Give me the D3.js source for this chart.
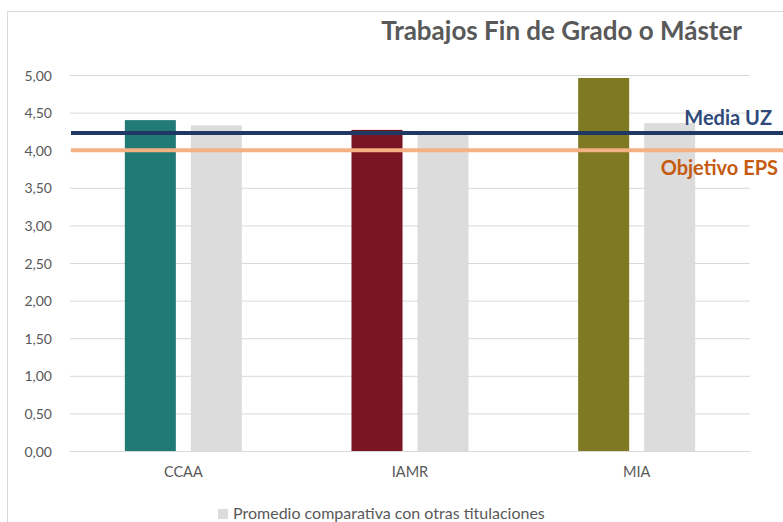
<!DOCTYPE html>
<html>
<head>
<meta charset="utf-8">
<script src="https://cdn.jsdelivr.net/npm/d3@7"></script>
<style>
  body { margin: 0; background: #fff; }
  svg { display: block; }
  svg text { font-family: Lato, "Open Sans", sans-serif; }
</style>
</head>
<body>
<div id="chart"></div>
<script>
// chart values
var categories = ["CCAA", "IAMR", "MIA"];
var titulacionValues = [4.40, 4.27, 4.96];
var promedioValues = [4.33, 4.25, 4.36];
var barColors = ["#217a75", "#7a1524", "#7e7922"];
var yTicks = [0, 0.5, 1, 1.5, 2, 2.5, 3, 3.5, 4, 4.5, 5];
var mediaUZ = 4.23;
var objetivoEPS = 4.00;

var W = 783, H = 522;
var margin = {top: 75, right: 33, bottom: 71, left: 70},
    width = W - margin.left - margin.right,
    height = H - margin.top - margin.bottom;

var svg = d3.select("#chart")
        .append("svg")
        .attr("width", W)
        .attr("height", H);

// outer frame
svg.append("rect")
        .attr("x", 7.5)
        .attr("y", 11.5)
        .attr("width", W + 20)
        .attr("height", H + 20)
        .attr("fill", "none")
        .attr("stroke", "#d9d9d9");

var canvas = svg.append("g")
        .attr("transform", "translate(" + margin.left + "," + margin.top + ")");

var x = d3.scaleBand()
        .domain(categories)
        .range([0, width]);
var y = d3.scaleLinear()
        .domain([0, 5])
        .range([height, 0]);

var fmt = function (d) { return d3.format(".2f")(d).replace(".", ","); };

// y axis with gridlines
var yAxis = canvas.append("g")
        .attr("class", "axis-y")
        .call(d3.axisLeft(y).tickValues(yTicks).tickFormat(fmt).tickSize(-width).tickPadding(18));
yAxis.select(".domain").remove();
yAxis.selectAll("line").attr("stroke", "#d9d9d9");
yAxis.selectAll("text")
        .attr("fill", "#595959")
        .attr("dy", "0.36em")
        .style("font-size", "14px");

// bars
var barW = 51, gap = 15;
var groups = canvas.selectAll(".grp")
        .data(categories)
        .enter()
        .append("g")
        .attr("class", "grp")
        .attr("transform", function (d) {
            return "translate(" + (x(d) + x.bandwidth() / 2) + ",0)";
        });

groups.append("rect")
        .attr("x", -(barW + gap / 2))
        .attr("width", barW)
        .attr("y", function (d, i) { return y(titulacionValues[i]); })
        .attr("height", function (d, i) { return height - y(titulacionValues[i]); })
        .attr("fill", function (d, i) { return barColors[i]; });

groups.append("rect")
        .attr("x", gap / 2)
        .attr("width", barW)
        .attr("y", function (d, i) { return y(promedioValues[i]); })
        .attr("height", function (d, i) { return height - y(promedioValues[i]); })
        .attr("fill", "#dcdcdc");

// x axis
var xAxis = canvas.append("g")
        .attr("class", "axis-x")
        .attr("transform", "translate(0," + height + ")")
        .call(d3.axisBottom(x).tickSize(0).tickPadding(16));
xAxis.select(".domain").attr("stroke", "#d9d9d9");
xAxis.selectAll("text")
        .attr("fill", "#595959")
        .style("font-size", "14.5px");

// reference lines
canvas.append("line")
        .attr("x1", 1).attr("x2", W)
        .attr("y1", y(objetivoEPS)).attr("y2", y(objetivoEPS))
        .attr("stroke", "#f4b183")
        .attr("stroke-width", 4);
canvas.append("line")
        .attr("x1", 1).attr("x2", W)
        .attr("y1", y(mediaUZ)).attr("y2", y(mediaUZ))
        .attr("stroke", "#203864")
        .attr("stroke-width", 4);

svg.append("text")
        .text("Media UZ")
        .attr("x", 772)
        .attr("y", 125)
        .attr("text-anchor", "end")
        .attr("fill", "#2f4a7a")
        .style("font-size", "20px")
        .style("font-weight", "bold");
svg.append("text")
        .text("Objetivo EPS")
        .attr("x", 778)
        .attr("y", 175)
        .attr("text-anchor", "end")
        .attr("fill", "#c55a11")
        .style("font-size", "20px")
        .style("font-weight", "bold");

// title
svg.append("text")
        .text("Trabajos Fin de Grado o Máster")
        .attr("x", 742)
        .attr("y", 40)
        .attr("text-anchor", "end")
        .attr("fill", "#595959")
        .style("font-size", "26px")
        .style("font-weight", "bold");

// legend
var legend = svg.append("g")
        .attr("transform", "translate(218,509)");
legend.append("rect")
        .attr("width", 10)
        .attr("height", 10)
        .attr("fill", "#dcdcdc");
legend.append("text")
        .text("Promedio comparativa con otras titulaciones")
        .attr("x", 15)
        .attr("y", 10)
        .attr("fill", "#595959")
        .style("font-size", "16px");
</script>
</body>
</html>
